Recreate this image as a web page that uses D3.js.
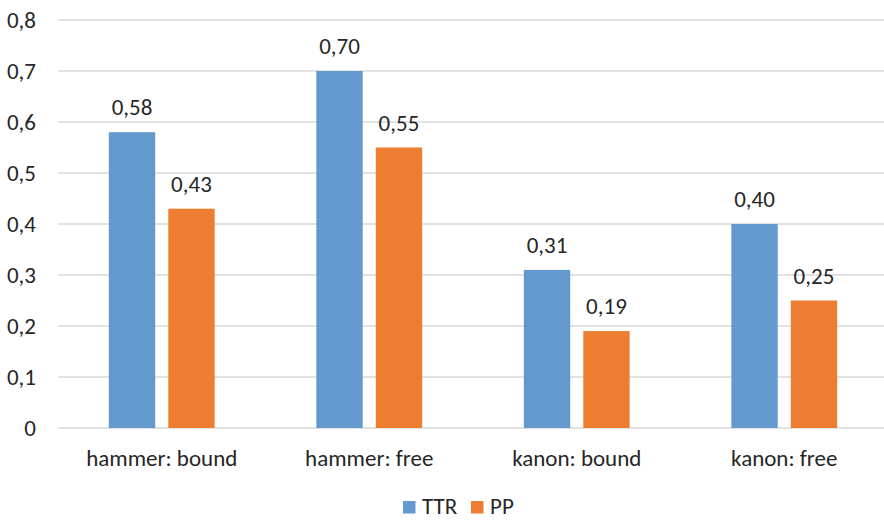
<!DOCTYPE html>
<html>
<head>
    <meta charset="utf-8" />
    <title>TTR vs PP</title>
    <script src="https://cdn.jsdelivr.net/npm/d3@7"></script>
    <style>
        body { margin: 0; background: #fff; }
        text { font-family: Carlito, Calibri, Lato, sans-serif; fill: #262626; }
    </style>
</head>
<body>
</body>
<script charset="utf-8">

    var categories = ['hammer: bound', 'hammer: free', 'kanon: bound', 'kanon: free'];
    var series = ['TTR', 'PP'];
    var ttrValues = [0.58, 0.70, 0.31, 0.40];
    var ppValues = [0.43, 0.55, 0.19, 0.25];
    var yTicks = [0, 0.1, 0.2, 0.3, 0.4, 0.5, 0.6, 0.7, 0.8];
    var colors = ['#6399cd', '#ed7d31'];

    var width = 884;
    var height = 520;
    var fs = '23px';
    var svg = d3.select('body').append('svg').attr('width', width).attr('height', height);

    var rows = categories.map(function(c, i) {
        return { cat: c, values: [ttrValues[i], ppValues[i]] };
    });

    var x = d3.scaleBand().domain(categories).range([58, 888]).paddingInner(0.49).paddingOuter(0.245);
    var xs = d3.scaleBand().domain(series).range([0, x.bandwidth()]).paddingInner(0.22);
    var y = d3.scaleLinear().domain([0, 0.8]).range([428, 20]);

    var fmt = function(v) { return d3.format('.2f')(v).replace('.', ','); };
    var fmtTick = function(v) { return v === 0 ? '0' : d3.format('.1f')(v).replace('.', ','); };

    // grid lines
    svg.append('g').selectAll('line').data(yTicks).enter().append('line')
        .attr('x1', 58).attr('x2', width)
        .attr('y1', function(d) { return y(d); }).attr('y2', function(d) { return y(d); })
        .attr('stroke', '#d9d9d9').attr('stroke-width', 1.3);

    // y axis labels
    var yAxis = d3.axisLeft(y).tickValues(yTicks).tickFormat(fmtTick).tickSize(0).tickPadding(0);
    var ga = svg.append('g').attr('transform', 'translate(36,0)').call(yAxis);
    ga.select('.domain').remove();
    ga.selectAll('text').attr('font-size', fs).attr('font-family', null).attr('fill', '#262626');

    // bars
    var groups = svg.selectAll('.grp').data(rows).enter().append('g')
        .attr('transform', function(d) { return 'translate(' + x(d.cat) + ',0)'; });

    groups.selectAll('rect').data(function(d) { return d.values; }).enter().append('rect')
        .attr('x', function(d, i) { return xs(series[i]); })
        .attr('y', function(d) { return y(d); })
        .attr('width', xs.bandwidth())
        .attr('height', function(d) { return y(0) - y(d); })
        .attr('fill', function(d, i) { return colors[i]; });

    groups.selectAll('text.val').data(function(d) { return d.values; }).enter().append('text')
        .attr('class', 'val')
        .attr('x', function(d, i) { return xs(series[i]) + xs.bandwidth() / 2; })
        .attr('y', function(d) { return y(d) - 17; })
        .attr('text-anchor', 'middle')
        .attr('font-size', fs)
        .text(fmt);

    // category labels
    var xAxis = d3.axisBottom(x).tickSize(0).tickPadding(0);
    var gx = svg.append('g').call(xAxis);
    gx.select('.domain').remove();
    gx.selectAll('text').attr('font-size', fs).attr('font-family', null).attr('fill', '#262626')
        .attr('dy', null).attr('y', 466);

    // legend
    var legendX = [403, 471];
    var lg = svg.append('g').selectAll('g').data(series).enter().append('g')
        .attr('transform', function(d, i) { return 'translate(' + legendX[i] + ',501)'; });
    lg.append('rect').attr('width', 12.5).attr('height', 12.5).attr('fill', function(d, i) { return colors[i]; });
    lg.append('text').attr('x', 19).attr('y', 13).attr('font-size', fs).text(function(d) { return d; });

</script>
</html>
